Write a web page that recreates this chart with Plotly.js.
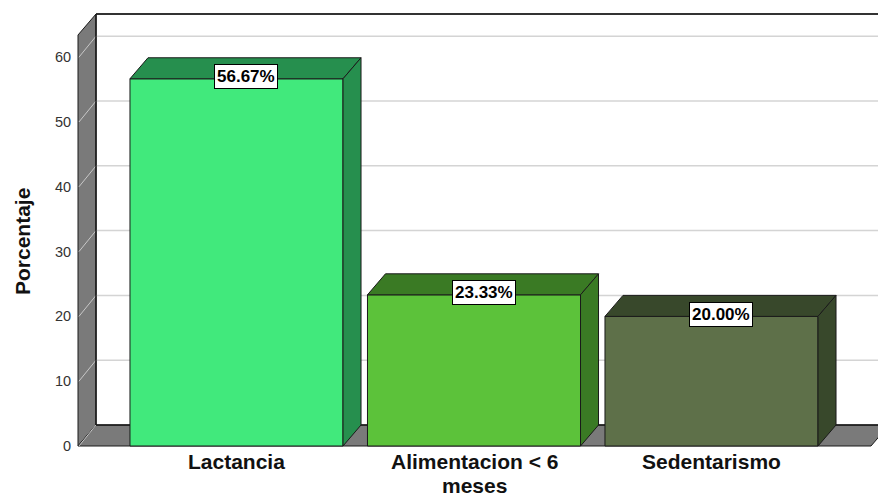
<!DOCTYPE html>
<html>
<head>
<meta charset="utf-8">
<script src="https://cdn.plot.ly/plotly-3.0.1.min.js"></script>
<style>html,body{margin:0;padding:0;background:#fff;}#chart{width:878px;height:497px;}</style>
</head>
<body>
<div id="chart"></div>
<script>
// ---- data ----
const categories = ['Lactancia', 'Alimentacion < 6<br>meses', 'Sedentarismo'];
const values = [56.67, 23.33, 20.00];
const valueLabels = ['56.67%', '23.33%', '20.00%'];
const yTicks = [0, 10, 20, 30, 40, 50, 60];
const yTitle = 'Porcentaje';
const frontColors = ['#41e97c', '#5cc23a', '#5e7049'];
const sideColors = ['#268f4e', '#3a7a24', '#38482b'];

// ---- geometry (layout constants) ----
const W = 878, H = 497;
const pl = 76, pr = 878, pt = 12, pb = 448;   // plot area in pixels
const zeroPx = 446, kY = 6.48;                 // pixels per percent
const cat0Px = 236.5, kX = 237.5;              // pixels per category
const yr = [(zeroPx - pb) / kY, (zeroPx - pt) / kY];
const xr = [(pl - cat0Px) / kX, (pr - cat0Px) / kX];
const dx = 18 / kX, dy = 21 / kY;              // depth offset
const xWall = (78 - cat0Px) / kX;
const xFloorR = (871 - cat0Px) / kX;
const yTopB = (zeroPx - 14) / kY;
const yTopF = yTopB - dy;
const barW = 0.897;

const edge = '#1a1a1a';
const wallCol = '#7a7a7a';
const shapes = [];
const P = (pts) => 'M ' + pts.map(p => p[0] + ',' + p[1]).join(' L ') + ' Z';

// wall
shapes.push({type: 'path', xref: 'x', yref: 'y', layer: 'below',
  path: P([[xWall, 0], [xWall, yTopF], [xWall + dx, yTopB], [xWall + dx, dy]]),
  fillcolor: wallCol, line: {color: edge, width: 1}});
// floor
shapes.push({type: 'path', xref: 'x', yref: 'y', layer: 'below',
  path: P([[xWall, 0], [xFloorR, 0], [xFloorR + dx, dy], [xWall + dx, dy]]),
  fillcolor: wallCol, line: {color: edge, width: 1}});
// wall diagonals
yTicks.forEach(v => {
  shapes.push({type: 'line', xref: 'x', yref: 'y', layer: 'below',
    x0: xWall + 0.004, y0: v, x1: xWall + dx, y1: v + dy,
    line: {color: '#c8c8c8', width: 1}});
});
// back gridlines
yTicks.filter(v => v > 0).forEach(v => {
  shapes.push({type: 'line', xref: 'x', yref: 'y', layer: 'below',
    x0: xWall + dx, y0: v + dy, x1: xr[1], y1: v + dy,
    line: {color: '#d4d4d4', width: 1.5}});
});
// back floor edge + top border + wall back edge
shapes.push({type: 'line', xref: 'x', yref: 'y', layer: 'below',
  x0: xWall + dx, y0: dy, x1: xr[1], y1: dy, line: {color: edge, width: 1.5}});
shapes.push({type: 'line', xref: 'x', yref: 'y', layer: 'below',
  x0: xWall + dx, y0: yTopB, x1: xr[1], y1: yTopB, line: {color: '#333', width: 2}});
shapes.push({type: 'line', xref: 'x', yref: 'y', layer: 'below',
  x0: xWall + dx, y0: dy, x1: xWall + dx, y1: yTopB, line: {color: edge, width: 1.5}});

// bar top and side faces
values.forEach((v, i) => {
  const x0 = i - barW / 2, x1 = i + barW / 2;
  shapes.push({type: 'path', xref: 'x', yref: 'y', layer: 'above',
    path: P([[x0, v], [x1, v], [x1 + dx, v + dy], [x0 + dx, v + dy]]),
    fillcolor: sideColors[i], line: {color: edge, width: 1}});
  shapes.push({type: 'path', xref: 'x', yref: 'y', layer: 'above',
    path: P([[x1, 0], [x1, v], [x1 + dx, v + dy], [x1 + dx, dy]]),
    fillcolor: sideColors[i], line: {color: edge, width: 1}});
});

const annotations = [];
// value labels
values.forEach((v, i) => {
  annotations.push({x: i + dx * 0.55, y: v, xref: 'x', yref: 'y', yshift: 2,
    text: '<b>' + valueLabels[i] + '</b>', showarrow: false,
    xanchor: 'center', yanchor: 'middle',
    font: {family: 'Liberation Sans, Arial, sans-serif', size: 17, color: '#000'},
    bgcolor: '#ffffff', bordercolor: '#000000', borderwidth: 1, borderpad: 2});
});
// category labels (one annotation per line so the line spacing matches)
categories.forEach((c, i) => {
  c.split('<br>').forEach((line, j) => {
    annotations.push({x: i, y: 0, xref: 'x', yref: 'y', yshift: -15 - 24 * j,
      text: '<b>' + line + '</b>', showarrow: false, xanchor: 'center', yanchor: 'middle',
      font: {family: 'Liberation Sans, Arial, sans-serif', size: 21, color: '#111'}});
  });
});
// y axis title
annotations.push({xref: 'paper', yref: 'paper', x: (22 - pl) / (pr - pl), y: (pb - 242) / (pb - pt),
  text: '<b>' + yTitle + '</b>', textangle: -90, showarrow: false,
  xanchor: 'center', yanchor: 'middle',
  font: {family: 'Liberation Sans, Arial, sans-serif', size: 21, color: '#111'}});

const trace = {
  type: 'bar', x: categories.map((c, i) => i), y: values, width: barW,
  marker: {color: frontColors, line: {color: edge, width: 1}},
  hoverinfo: 'skip', showlegend: false
};

const layout = {
  width: W, height: H,
  margin: {l: pl, r: W - pr, t: pt, b: H - pb, pad: 0},
  paper_bgcolor: '#ffffff', plot_bgcolor: 'rgba(0,0,0,0)',
  font: {family: 'Liberation Sans, Arial, sans-serif', color: '#333'},
  showlegend: false,
  xaxis: {range: xr, showticklabels: false, showgrid: false, zeroline: false,
    showline: false, ticks: '', fixedrange: true},
  yaxis: {range: yr, tickvals: yTicks, ticktext: yTicks.map(String),
    showgrid: false, zeroline: false, showline: false,
    ticks: 'outside', ticklen: 1, tickcolor: 'rgba(0,0,0,0)',
    tickfont: {size: 14.5, color: '#333'},
    fixedrange: true},
  shapes: shapes,
  annotations: annotations
};

Plotly.newPlot('chart', [trace], layout, {displayModeBar: false, staticPlot: true});
</script>
</body>
</html>
